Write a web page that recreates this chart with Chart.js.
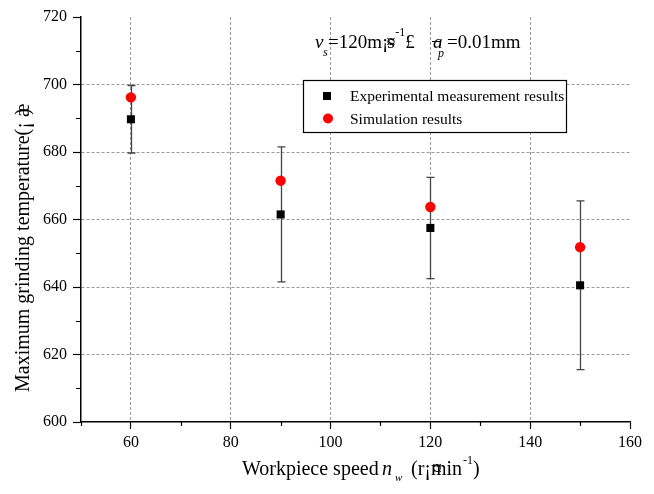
<!DOCTYPE html>
<html>
<head>
<meta charset="utf-8">
<script src="https://cdn.jsdelivr.net/npm/chart.js@4"></script>
<style>
  body { margin: 0; background: #fff; }
</style>
</head>
<body>
<canvas id="TempChart" width="654" height="494"></canvas>
<script>
// workpiece speed n_w (r/min)
const speeds = [60, 90, 120, 150];
// measured maximum grinding temperature and its spread
const measured = [689.7, 661.5, 657.5, 640.5];
const measuredErr = [10, 20, 15, 25];
// simulated maximum grinding temperature
const simulated = [696.2, 671.5, 663.7, 651.8];

const xMajorTicks = [50, 60, 80, 100, 120, 140, 160];
const xMinorTicks = [50, 70, 90, 110, 130, 150];
const yMinorTicks = [610, 630, 650, 670, 690, 710];

const legendLabels = ['Experimental measurement results', 'Simulation results'];

const serif = "'Liberation Serif', 'Times New Roman', serif";

function seg(ctx, text, x, y, size, italic) {
    ctx.font = (italic ? 'italic ' : '') + size + 'px ' + serif;
    ctx.fillText(text, x, y);
    return x + ctx.measureText(text).width;
}

// error bars under the measured points
const errorBars = {
    id: 'errorBars',
    beforeDatasetsDraw(chart) {
        const ctx = chart.ctx;
        const xs = chart.scales.x;
        const ys = chart.scales.y;
        ctx.save();
        ctx.strokeStyle = '#444';
        ctx.lineWidth = 1.3;
        for (let i = 0; i < speeds.length; i++) {
            let px = Math.round(xs.getPixelForValue(speeds[i])) + 0.5;
            let top = ys.getPixelForValue(measured[i] + measuredErr[i]);
            let bot = ys.getPixelForValue(measured[i] - measuredErr[i]);
            ctx.beginPath();
            ctx.moveTo(px, top);
            ctx.lineTo(px, bot);
            ctx.moveTo(px - 4, top);
            ctx.lineTo(px + 4, top);
            ctx.moveTo(px - 4, bot);
            ctx.lineTo(px + 4, bot);
            ctx.stroke();
        }
        ctx.restore();
    }
};

// minor ticks, legend box and the titles
const decorations = {
    id: 'decorations',
    afterDraw(chart) {
        const ctx = chart.ctx;
        const xs = chart.scales.x;
        const ys = chart.scales.y;
        const area = chart.chartArea;
        ctx.save();

        ctx.strokeStyle = '#000';
        ctx.lineWidth = 1.2;
        ctx.beginPath();
        for (let i = 0; i < xMinorTicks.length; i++) {
            let px = Math.round(xs.getPixelForValue(xMinorTicks[i])) + 0.5;
            ctx.moveTo(px, area.bottom);
            ctx.lineTo(px, area.bottom + 4);
        }
        for (let i = 0; i < yMinorTicks.length; i++) {
            let py = Math.round(ys.getPixelForValue(yMinorTicks[i])) + 0.5;
            ctx.moveTo(area.left, py);
            ctx.lineTo(area.left - 5, py);
        }
        ctx.stroke();

        // legend
        ctx.fillStyle = '#fff';
        ctx.fillRect(303, 80, 263, 52);
        ctx.lineWidth = 1.2;
        ctx.strokeStyle = '#000';
        ctx.strokeRect(303.5, 80.5, 263, 52);
        ctx.fillStyle = '#000';
        ctx.fillRect(323, 92, 8, 8);
        ctx.fillStyle = '#ff0000';
        ctx.beginPath();
        ctx.arc(328, 118.5, 5, 0, Math.PI * 2);
        ctx.fill();
        ctx.fillStyle = '#000';
        ctx.textBaseline = 'alphabetic';
        ctx.textAlign = 'left';
        seg(ctx, legendLabels[0], 350, 101, 15.5, false);
        seg(ctx, legendLabels[1], 350, 123.5, 15.5, false);

        // process parameters
        seg(ctx, 'v', 315, 48, 19, true);
        seg(ctx, 's', 323, 56, 12, true);
        let x = seg(ctx, '=120m\u00a1', 328, 48, 19, false);
        seg(ctx, 's', x - 1, 48, 19, false);
        seg(ctx, '\u00a4', x - 2, 48, 19, false);
        seg(ctx, '-1', x + 7, 36, 12, false);
        seg(ctx, '\u00a3', x + 17, 48, 19, false);
        seg(ctx, '\u00ac', 431, 48, 19, false);
        seg(ctx, 'a', 433, 48, 19, true);
        seg(ctx, 'p', 438, 57, 12, true);
        seg(ctx, '=0.01mm', 447, 48, 19, false);

        // x title
        seg(ctx, 'Workpiece speed ', 242, 475, 20, false);
        seg(ctx, 'n', 382, 475, 20, true);
        seg(ctx, 'w', 395, 481, 11, true);
        x = seg(ctx, '(r\u00a1', 411, 475, 20, false);
        let x2 = seg(ctx, 'min', x, 475, 20, false);
        seg(ctx, '\u00a4', x + 1, 475, 20, false);
        x2 = seg(ctx, '-1', x2 + 1, 464, 12, false);
        seg(ctx, ')', x2, 475, 20, false);

        // y title
        ctx.translate(29, 392);
        ctx.rotate(-Math.PI / 2);
        x = seg(ctx, 'Maximum grinding temperature(\u00a1', 0, 0, 20, false);
        seg(ctx, '\u00e6', x + 5, 0, 20, false);
        seg(ctx, ')', x + 7, 0, 20, false);

        ctx.restore();
    }
};

const transparent = 'rgba(0,0,0,0)';

const config = {
    type: 'scatter',
    data: {
        datasets: [{
            label: legendLabels[0],
            data: speeds.map((s, i) => ({ x: s, y: measured[i] })),
            pointStyle: 'rect',
            pointRadius: 5.7,
            backgroundColor: '#000',
            borderWidth: 0
        }, {
            label: legendLabels[1],
            data: speeds.map((s, i) => ({ x: s, y: simulated[i] })),
            pointStyle: 'circle',
            pointRadius: 5.2,
            backgroundColor: '#ff0000',
            borderWidth: 0
        }]
    },
    options: {
        responsive: false,
        animation: false,
        layout: { padding: { top: 17, right: 24, bottom: 0, left: 0 } },
        plugins: {
            legend: { display: false },
            tooltip: { enabled: false }
        },
        scales: {
            x: {
                type: 'linear',
                min: 50,
                max: 160,
                afterBuildTicks: function (axis) {
                    axis.ticks = xMajorTicks.map(v => ({ value: v }));
                },
                afterFit: function (scale) {
                    scale.height = 72;
                },
                ticks: {
                    autoSkip: false,
                    maxRotation: 0,
                    padding: 4,
                    color: '#000',
                    font: { family: serif, size: 16 },
                    callback: function (value) {
                        return value == 50 ? '' : value;
                    }
                },
                grid: {
                    color: function (c) {
                        if (c.tick && (c.tick.value == 50 || c.tick.value == 160)) {
                            return transparent;
                        }
                        return '#9a9a9a';
                    },
                    tickColor: function (c) {
                        return c.tick && c.tick.value == 50 ? transparent : '#000';
                    },
                    lineWidth: 1,
                    tickWidth: 1.2,
                    tickLength: 7
                },
                border: { color: '#000', width: 1.5, dash: [3, 2] }
            },
            y: {
                min: 600,
                max: 720,
                afterFit: function (scale) {
                    scale.width = 81;
                },
                ticks: {
                    stepSize: 20,
                    padding: 6,
                    color: '#000',
                    font: { family: serif, size: 16 }
                },
                grid: {
                    color: function (c) {
                        if (c.tick && (c.tick.value == 600 || c.tick.value == 720)) {
                            return transparent;
                        }
                        return '#9a9a9a';
                    },
                    tickColor: '#000',
                    lineWidth: 1,
                    tickWidth: 1.2,
                    tickLength: 8
                },
                border: { color: '#000', width: 1.5, dash: [3, 2] }
            }
        }
    },
    plugins: [errorBars, decorations]
};

let tempChart = new Chart(document.getElementById('TempChart'), config);
</script>
</body>
</html>
